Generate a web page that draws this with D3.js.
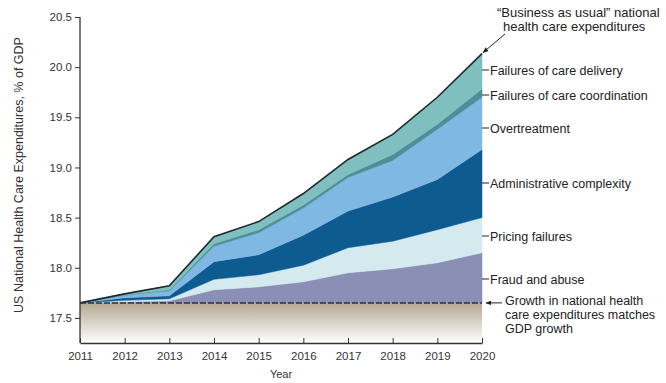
<!DOCTYPE html>
<html>
<head>
<meta charset="utf-8">
<script src="https://cdn.jsdelivr.net/npm/d3@7"></script>
<style>
body { margin: 0; background: #fff; }
svg text { font-family: "Liberation Sans", Arial, sans-serif; fill: #222; }
</style>
</head>
<body>
<svg id="chart" width="666" height="383"></svg>
<script>
// years and waste components (% of GDP on top of the GDP-growth baseline)
var years = [2011, 2012, 2013, 2014, 2015, 2016, 2017, 2018, 2019, 2020];
var baseline = 17.65;
var fraud = [0, 0.01, 0.02, 0.13, 0.16, 0.21, 0.30, 0.34, 0.40, 0.50];
var pricing = [0, 0.015, 0.02, 0.105, 0.12, 0.165, 0.25, 0.275, 0.33, 0.35];
var admin = [0, 0.025, 0.03, 0.175, 0.20, 0.30, 0.365, 0.44, 0.50, 0.68];
var overtreatment = [0, 0.025, 0.05, 0.155, 0.22, 0.27, 0.335, 0.365, 0.50, 0.52];
var coordination = [0, 0.005, 0.01, 0.025, 0.03, 0.03, 0.03, 0.06, 0.05, 0.085];
var delivery = [0, 0.01, 0.04, 0.07, 0.08, 0.115, 0.15, 0.20, 0.27, 0.35];
var yTicks = [17.5, 18.0, 18.5, 19.0, 19.5, 20.0, 20.5];

var keys = ["fraud", "pricing", "admin", "overtreatment", "coordination", "delivery"];
var colors = {
	fraud: "#8b8fb6",
	pricing: "#d4eaee",
	admin: "#0d5b8f",
	overtreatment: "#80b8e4",
	coordination: "#4e8e98",
	delivery: "#7fbfbf"
};
var labels = [
	{ text: "Failures of care delivery", y: 70 },
	{ text: "Failures of care coordination", y: 95 },
	{ text: "Overtreatment", y: 128 },
	{ text: "Administrative complexity", y: 183 },
	{ text: "Pricing failures", y: 236 },
	{ text: "Fraud and abuse", y: 279 }
];

var rows = years.map(function(y, i){
	return {
		year: y,
		fraud: fraud[i],
		pricing: pricing[i],
		admin: admin[i],
		overtreatment: overtreatment[i],
		coordination: coordination[i],
		delivery: delivery[i]
	};
});

var svg = d3.select("#chart");

var x = d3.scaleLinear().domain([2011, 2020]).range([80, 482]);
var y = d3.scaleLinear().domain([17.25, 20.5]).range([343, 17]);

var defs = svg.append("defs");
var grad = defs.append("linearGradient")
	.attr("id", "baseGrad")
	.attr("x1", 0).attr("y1", 0).attr("x2", 0).attr("y2", 1);
grad.append("stop").attr("offset", "0%").attr("stop-color", "#b3a890");
grad.append("stop").attr("offset", "100%").attr("stop-color", "#ffffff");

var marker = defs.append("marker")
	.attr("id", "arrow")
	.attr("viewBox", "0 0 10 10")
	.attr("refX", 9).attr("refY", 5)
	.attr("markerWidth", 6).attr("markerHeight", 6)
	.attr("orient", "auto");
marker.append("path").attr("d", "M0,1 L10,5 L0,9 Z").attr("fill", "#222");

// baseline block (GDP growth)
svg.append("rect")
	.attr("x", x(2011))
	.attr("y", y(baseline))
	.attr("width", x(2020) - x(2011))
	.attr("height", y(17.25) - y(baseline))
	.attr("fill", "url(#baseGrad)");

var stack = d3.stack().keys(keys);
var series = stack(rows);

var area = d3.area()
	.x(function(d){ return x(d.data.year); })
	.y0(function(d){ return y(baseline + d[0]); })
	.y1(function(d){ return y(baseline + d[1]); });

svg.selectAll(".layer")
	.data(series)
	.enter()
	.append("path")
	.attr("class", "layer")
	.attr("d", area)
	.attr("fill", function(d){ return colors[d.key]; })
	.attr("stroke", function(d){ return colors[d.key]; })
	.attr("stroke-width", 0.5);

// top outline
var topSeries = series[series.length - 1];
svg.append("path")
	.datum(topSeries)
	.attr("d", d3.line()
		.x(function(d){ return x(d.data.year); })
		.y(function(d){ return y(baseline + d[1]); }))
	.attr("fill", "none")
	.attr("stroke", "#1c2a2a")
	.attr("stroke-width", 1.6);

// baseline dashed line
svg.append("line")
	.attr("x1", x(2011)).attr("x2", x(2020))
	.attr("y1", y(baseline)).attr("y2", y(baseline))
	.attr("stroke", "#333")
	.attr("stroke-width", 1.5)
	.attr("stroke-dasharray", "6,2");

// axes
var yAxis = svg.append("g")
	.attr("transform", "translate(" + x(2011) + ",0)")
	.call(d3.axisLeft(y).tickValues(yTicks).tickFormat(d3.format(".1f")).tickSize(5).tickSizeOuter(0));
var xAxis = svg.append("g")
	.attr("transform", "translate(0," + y(17.25) + ")")
	.call(d3.axisBottom(x).tickValues(years).tickFormat(d3.format("d")).tickSize(-5).tickSizeOuter(0));

[yAxis, xAxis].forEach(function(g){
	g.select(".domain").attr("stroke", "#333").attr("stroke-width", 1.3);
	g.selectAll(".tick line").attr("stroke", "#333");
	g.selectAll(".tick text").attr("font-size", 11.5).style("fill", "#333");
});
xAxis.selectAll(".tick text").attr("y", 9);
yAxis.select(".domain").attr("d", "M0," + y(20.5) + "V" + y(17.25));

svg.append("text")
	.attr("x", x(2015.5))
	.attr("y", 378)
	.attr("text-anchor", "middle")
	.attr("font-size", 11)
	.style("fill", "#333")
	.text("Year");

svg.append("text")
	.attr("transform", "translate(23," + 175 + ") rotate(-90)")
	.attr("text-anchor", "middle")
	.attr("font-size", 12.5)
	.style("fill", "#333")
	.text("US National Health Care Expenditures, % of GDP");

// right labels
svg.selectAll(".lbl")
	.data(labels)
	.enter()
	.append("text")
	.attr("class", "lbl")
	.attr("x", x(2020) + 8)
	.attr("y", function(d){ return d.y + 4.5; })
	.attr("font-size", 12.5)
	.text(function(d){ return d.text; });
svg.selectAll(".lblTick")
	.data(labels)
	.enter()
	.append("line")
	.attr("x1", x(2020))
	.attr("x2", x(2020) + 7)
	.attr("y1", function(d){ return d.y; })
	.attr("y2", function(d){ return d.y; })
	.attr("stroke", "#222");

// top annotation
svg.append("text").attr("x", 497).attr("y", 17).attr("font-size", 13).text("\u201cBusiness as usual\u201d national");
svg.append("text").attr("x", 503).attr("y", 31).attr("font-size", 13).text("health care expenditures");
var lastTop = topSeries[topSeries.length - 1][1];
svg.append("line")
	.attr("x1", 505).attr("y1", 34)
	.attr("x2", x(2020) + 1).attr("y2", y(baseline + lastTop) - 1)
	.attr("stroke", "#222")
	.attr("marker-end", "url(#arrow)");

// bottom annotation
var gdpLines = ["Growth in national health", "care expenditures matches", "GDP growth"];
svg.selectAll(".gdp")
	.data(gdpLines)
	.enter()
	.append("text")
	.attr("class", "gdp")
	.attr("x", 505)
	.attr("y", function(d, i){ return 305 + i * 14; })
	.attr("font-size", 12.5)
	.text(function(d){ return d; });
svg.append("line")
	.attr("x1", 502).attr("y1", y(baseline))
	.attr("x2", x(2020) + 4).attr("y2", y(baseline))
	.attr("stroke", "#222")
	.attr("marker-end", "url(#arrow)");
</script>
</body>
</html>
